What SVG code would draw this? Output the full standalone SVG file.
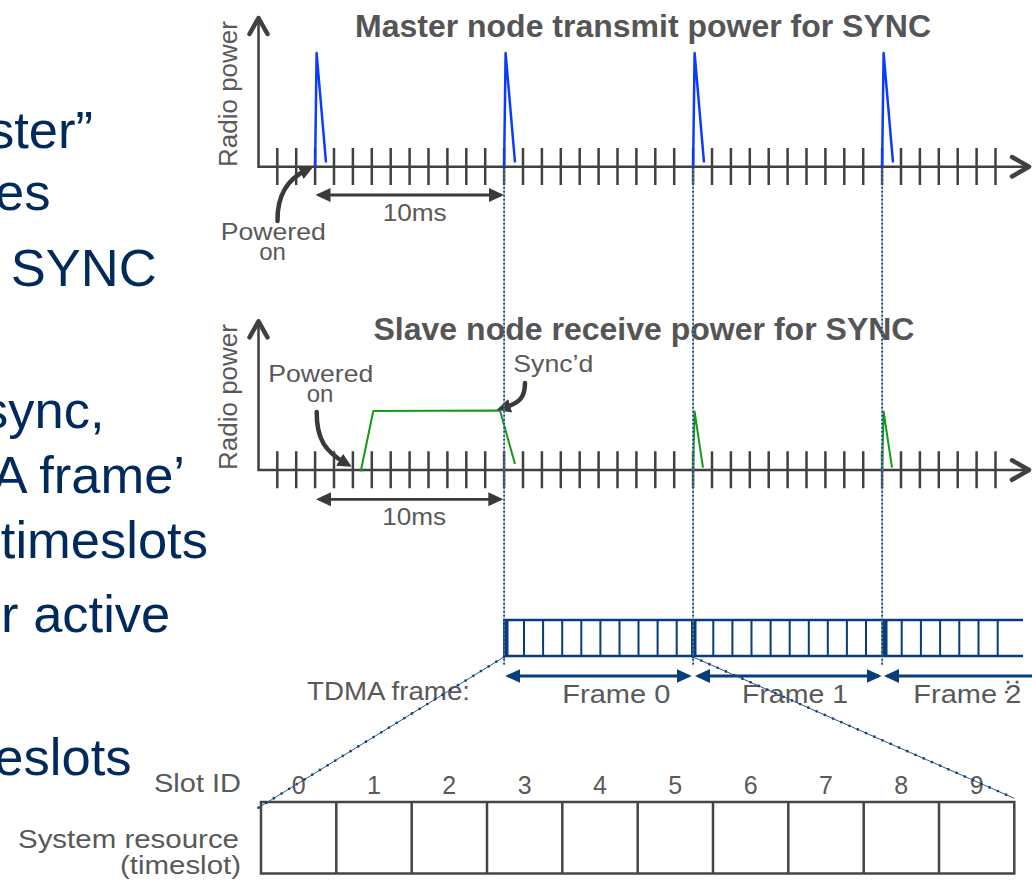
<svg xmlns="http://www.w3.org/2000/svg" xmlns:xlink="http://www.w3.org/1999/xlink" width="1032" height="888" viewBox="0 0 1032 888">
<style>
text{font-family:"Liberation Sans",Arial,sans-serif}
.big{font-size:52.5px;fill:#002a5c}
.lbl{fill:#595959}
.title{font-weight:bold;fill:#555555;font-size:30.5px}
.axis{stroke:#404040;fill:none;stroke-width:2.5}
.chev{stroke:#404040;fill:none;stroke-width:4.5;stroke-linecap:round;stroke-linejoin:round}
.blue{stroke:#0a3cff;stroke-width:2.5;fill:none;stroke-linejoin:round}
.green{stroke:#149a14;stroke-width:2;fill:none;stroke-linejoin:round}
.vbase{stroke:#6a93c0;stroke-width:1;fill:none}
.vdots{stroke:#163f70;stroke-width:1.8;stroke-dasharray:1.5 2.5;fill:none}
.dbase{stroke:#2a5a90;stroke-width:1;fill:none}
.ddots{stroke:#1a4478;stroke-width:2.8;stroke-linecap:round;stroke-dasharray:0 9;fill:none}
.navy{stroke:#063d7a;fill:none}
.curv{stroke:#3a3a3a;stroke-width:4.5;fill:none;stroke-linecap:round}
.dim{stroke:#3a3a3a;stroke-width:2.8;fill:none}
.fdim{stroke:#063d7a;stroke-width:2.8;fill:none}
.slot{stroke:#454545;stroke-width:2.5;fill:#ffffff}
</style>
<defs>
<marker id="ahGray" markerUnits="userSpaceOnUse" markerWidth="16" markerHeight="16" refX="12" refY="7" orient="auto-start-reverse"><path d="M0,0 L15,7 L0,14 z" fill="#3a3a3a"/></marker>
<marker id="ahNavy" markerUnits="userSpaceOnUse" markerWidth="16" markerHeight="16" refX="12" refY="7" orient="auto-start-reverse"><path d="M0,0 L15,7 L0,14 z" fill="#063d7a"/></marker>
<marker id="ahCurve" markerUnits="userSpaceOnUse" markerWidth="16" markerHeight="16" refX="7" refY="7" orient="auto"><path d="M0,0 L14,7 L0,14 z" fill="#3a3a3a"/></marker>
<g id="axesShape">
<path class="axis" d="M258.5,19V166.7H1028"/>
<path class="chev" d="M249.5,34L258.5,18L267.5,34"/>
<path class="chev" d="M1012,157L1029,166.7L1012,176.5"/>
<path class="axis" d="M277.3,148v37m18.9,-37v37m18.9,-37v37m18.9,-37v37m18.9,-37v37m18.9,-37v37m18.9,-37v37m18.9,-37v37m18.9,-37v37m18.9,-37v37m18.9,-37v37m18.9,-37v37m18.9,-37v37m18.9,-37v37m18.9,-37v37m18.9,-37v37m18.9,-37v37m18.9,-37v37m18.9,-37v37m18.9,-37v37m18.9,-37v37m18.9,-37v37m18.9,-37v37m18.9,-37v37m18.9,-37v37m18.9,-37v37m18.9,-37v37m18.9,-37v37m18.9,-37v37m18.9,-37v37m18.9,-37v37m18.9,-37v37m18.9,-37v37m18.9,-37v37m18.9,-37v37m18.9,-37v37m18.9,-37v37m18.9,-37v37m18.9,-37v37"/>
</g>
</defs>

<g id="slide-text">
<text class="big" x="93" y="148" text-anchor="end">ster”</text>
<text class="big" x="50.5" y="210" text-anchor="end">es</text>
<text class="big" x="10.7" y="286">SYNC</text>
<text class="big" x="104.6" y="428" text-anchor="end">sync,</text>
<text class="big" x="185" y="493" text-anchor="end">A frame’</text>
<text class="big" x="0.8" y="558">timeslots</text>
<text class="big" x="170.3" y="632" text-anchor="end">r active</text>
<text class="big" x="131.5" y="775" text-anchor="end">eslots</text>
</g>

<g id="master-graph">
<use xlink:href="#axesShape" href="#axesShape"/>
<text class="lbl" font-size="26" transform="translate(237,167) rotate(-90)">Radio power</text>
<text class="title" x="355" y="36.7" textLength="576" lengthAdjust="spacingAndGlyphs">Master node transmit power for SYNC</text>
<path class="blue" d="M315.1,166.7L316.6,53L326,162.5M504.1,166.7L505.6,53L515,162.5M693.1,166.7L694.6,53L704,162.5M882.1,166.7L883.6,53L893,162.5"/>
<g id="master-powered-on">
<text class="lbl" font-size="24" x="273.3" y="240" text-anchor="middle" textLength="105" lengthAdjust="spacingAndGlyphs">Powered</text>
<text class="lbl" font-size="24" x="272.5" y="259.5" text-anchor="middle">on</text>
</g>
<g id="master-10ms">
<text class="lbl" font-size="23" x="414.7" y="220.5" text-anchor="middle" textLength="64" lengthAdjust="spacingAndGlyphs">10ms</text>
</g>
</g>

<g id="slave-graph">
<use xlink:href="#axesShape" href="#axesShape" transform="translate(0,303.3)"/>
<text class="lbl" font-size="26" transform="translate(237,470) rotate(-90)">Radio power</text>
<text class="title" x="373.5" y="340" textLength="541" lengthAdjust="spacingAndGlyphs">Slave node receive power for SYNC</text>
<path class="green" d="M360.7,471.5L373.3,411L500,410.5L515,464M693.1,470L694.6,411.5L703,467.7M882.1,470L883.6,411.5L892,467.7"/>
<g id="slave-powered-on">
<text class="lbl" font-size="24" x="320.8" y="381.7" text-anchor="middle" textLength="105" lengthAdjust="spacingAndGlyphs">Powered</text>
<text class="lbl" font-size="24" x="320" y="401.7" text-anchor="middle">on</text>
</g>
<g id="slave-syncd">
<text class="lbl" font-size="24" x="553.3" y="371.7" text-anchor="middle" textLength="80" lengthAdjust="spacingAndGlyphs">Sync’d</text>
</g>
<g id="slave-10ms">
<text class="lbl" font-size="23" x="414.2" y="525" text-anchor="middle" textLength="64" lengthAdjust="spacingAndGlyphs">10ms</text>
</g>
</g>

<g id="tdma-frame">
<path class="navy" stroke-width="2.5" d="M503,620H1023M503,656H1023"/>
<g fill="#063d7a">
<rect x="503" y="619" width="5.5" height="38"/>
<rect x="691" y="619" width="5.5" height="38"/>
<rect x="881.5" y="619" width="6" height="38"/>
</g>
<path class="navy" stroke-width="2" d="M524,620V656M543.1,620V656M562.2,620V656M581.3,620V656M600.4,620V656M619.5,620V656M638.5,620V656M657.6,620V656M676.7,620V656M713.3,620V656M732.4,620V656M751.5,620V656M770.6,620V656M789.7,620V656M808.8,620V656M827.8,620V656M846.9,620V656M866,620V656M901.7,620V656M920.9,620V656M940.1,620V656M959.3,620V656M978.5,620V656M997.7,620V656"/>
<text class="lbl" font-size="26.5" x="307" y="700" textLength="163" lengthAdjust="spacingAndGlyphs">TDMA frame:</text>
</g>

<g id="frame-0">
<path class="fdim" d="M508.3,676H688.7" marker-start="url(#ahNavy)" marker-end="url(#ahNavy)"/>
<text class="lbl" font-size="26.5" x="616.3" y="703.3" text-anchor="middle" textLength="108" lengthAdjust="spacingAndGlyphs">Frame 0</text>
</g>
<g id="frame-1">
<path class="fdim" d="M698,676H878.7" marker-start="url(#ahNavy)" marker-end="url(#ahNavy)"/>
<text class="lbl" font-size="26.5" x="795" y="703.3" text-anchor="middle" textLength="106" lengthAdjust="spacingAndGlyphs">Frame 1</text>
</g>
<g id="frame-2">
<path class="fdim" d="M887,676H1034" marker-start="url(#ahNavy)"/>
<text class="lbl" font-size="26.5" x="967.3" y="703.3" text-anchor="middle" textLength="108" lengthAdjust="spacingAndGlyphs">Frame 2</text>
<g fill="#595959"><circle cx="1008" cy="682" r="1.6"/><circle cx="1017" cy="682" r="1.6"/><circle cx="1006.5" cy="692" r="1.6"/></g>
</g>

<g id="slots">
<text class="lbl" font-size="26.5" x="241" y="791.7" text-anchor="end" textLength="87" lengthAdjust="spacingAndGlyphs">Slot ID</text>
<text class="lbl" font-size="26.5" x="239" y="848.3" text-anchor="end" textLength="221" lengthAdjust="spacingAndGlyphs">System resource</text>
<text class="lbl" font-size="26.5" x="241" y="874" text-anchor="end" textLength="121" lengthAdjust="spacingAndGlyphs">(timeslot)</text>
<rect class="slot" x="261" y="802" width="753.3" height="71.5"/>
<path class="slot" d="M336.3,802V873.5M411.7,802V873.5M487,802V873.5M562.3,802V873.5M637.7,802V873.5M713,802V873.5M788.3,802V873.5M863.7,802V873.5M939,802V873.5"/>
<g class="lbl" font-size="25" text-anchor="middle">
<text x="298.7" y="794">0</text>
<text x="374" y="794">1</text>
<text x="449.3" y="794">2</text>
<text x="524.7" y="794">3</text>
<text x="600" y="794">4</text>
<text x="675.3" y="794">5</text>
<text x="750.7" y="794">6</text>
<text x="826" y="794">7</text>
<text x="901.3" y="794">8</text>
<text x="976.7" y="794">9</text>
</g>
</g>

<g id="connectors">
<path class="curv" d="M277.5,221C277,195 287,179 307,169.7" marker-end="url(#ahCurve)"/>
<path class="dim" d="M318.5,195H501" marker-start="url(#ahGray)" marker-end="url(#ahGray)"/>
<path class="curv" d="M316.7,412C316.5,440 326,452 345.6,463.3" marker-end="url(#ahCurve)"/>
<path class="curv" d="M525,383C525,397 520,403 503.5,407.8" marker-end="url(#ahCurve)"/>
<path class="dim" d="M319,499.3H500.3" marker-start="url(#ahGray)" marker-end="url(#ahGray)"/>
<path class="vbase" d="M504.1,167V665M693.1,167V665M882.1,167V665"/>
<path class="vdots" d="M504.1,167V665M693.1,167V665M882.1,167V665"/>
<path class="dbase" d="M504,657L258,808M693,657L1014.3,798.3"/>
<path class="ddots" d="M504,657L258,808M693,657L1014.3,798.3"/>
</g>
</svg>
